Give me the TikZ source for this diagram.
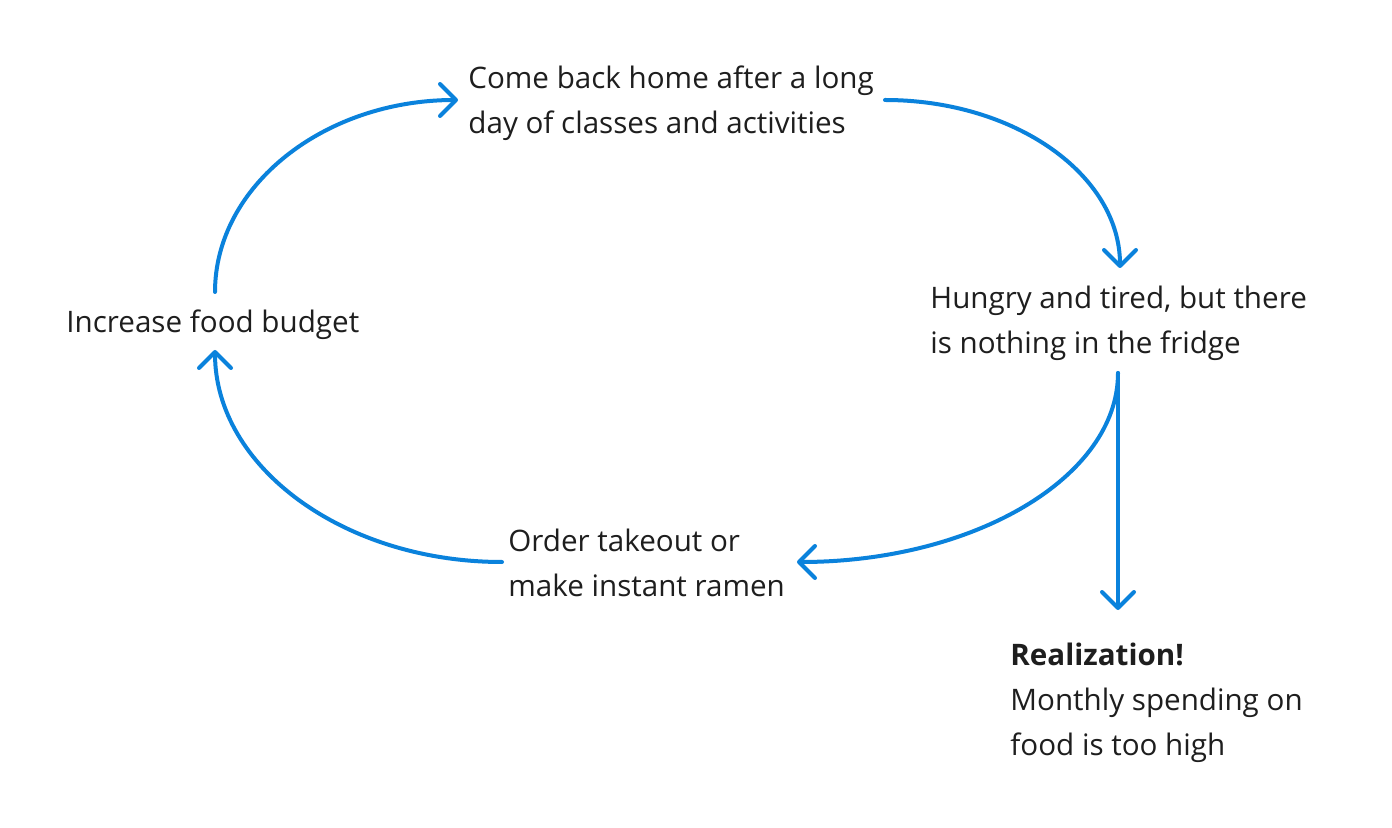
\documentclass[tikz,border=0pt]{standalone}
\usepackage{fontspec}
\setmainfont{Open Sans}
\usetikzlibrary{arrows.meta}
\definecolor{flow}{RGB}{10,130,220}
\definecolor{ink}{RGB}{30,30,30}
\begin{document}
\begin{tikzpicture}[x=0.5pt,y=-0.5pt,
  txt/.style={anchor=base west, inner sep=0pt, align=left, text=ink,
    font=\fontsize{14.8}{22.5}\selectfont},
  flowline/.style={draw=flow, line width=2pt, line cap=round,
    -{Straight Barb[length=8pt,width=16pt,round]}}]
\fill[white] (0,0) rectangle (1392,828);
\useasboundingbox (0,0) rectangle (1392,828);
% texts (anchor = baseline of the last line)
\node[txt] (home) at (468,134) {Come back home after a long\\day of classes and activities};
\node[txt] (hungry) at (930,354) {Hungry and tired, but there\\is nothing in the fridge};
\node[txt] (budget) at (66,333) {Increase food budget};
\node[txt] (order) at (508,596) {Order takeout or\\make instant ramen};
\node[txt] (real) at (1010,755) {\textbf{Realization!}\\Monthly spending on\\food is too high};
% connector end points
\coordinate (b1) at (215,292);
\coordinate (h1) at (458,100);
\coordinate (h2) at (885,100);
\coordinate (g1) at (1120,268);
\coordinate (g2) at (1118,373);
\coordinate (o1) at (797,562);
\coordinate (o2) at (502,562);
\coordinate (b2) at (215,350);
\coordinate (r1) at (1118,610);
% connectors
\draw[flowline] (b1) .. controls (215,186) and (324,100) .. (h1);
\draw[flowline] (h2) .. controls (1015,100) and (1120,175) .. (g1);
\draw[flowline] (g2) .. controls (1118,477) and (974,562) .. (o1);
\draw[flowline] (o2) .. controls (344,562) and (215,467) .. (b2);
\draw[flowline] (g2) -- (r1);
\end{tikzpicture}
\end{document}
